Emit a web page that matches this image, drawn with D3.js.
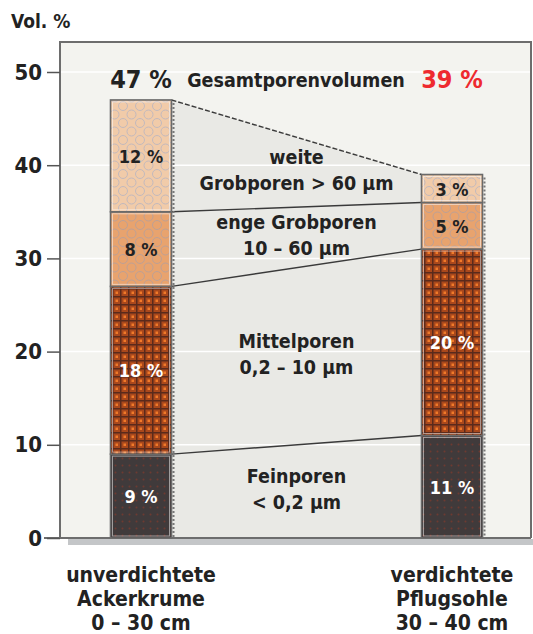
<!DOCTYPE html>
<html>
<head>
<meta charset="utf-8">
<script src="https://cdn.jsdelivr.net/npm/d3@7"></script>
<style>
  body { margin: 0; background: #fff; }
  svg text { font-family: "Liberation Sans Narrow", "DejaVu Sans Condensed", sans-serif; font-weight: bold; fill: #222; }
</style>
</head>
<body>
<svg id="chart" width="533" height="634"></svg>
<script>
// Chart data
const sites = ['loose', 'compact'];
const siteLabels = [
    ['unverdichtete', 'Ackerkrume', '0 – 30 cm'],
    ['verdichtete', 'Pflugsohle', '30 – 40 cm']
];
const poreClasses = ['Feinporen', 'Mittelporen', 'enge Grobporen', 'weite Grobporen'];
const classLabels = [
    ['Feinporen', '< 0,2 µm'],
    ['Mittelporen', '0,2 – 10 µm'],
    ['enge Grobporen', '10 – 60 µm'],
    ['weite', 'Grobporen > 60 µm']
];
const looseValues = [9, 18, 8, 12];
const compactValues = [11, 20, 5, 3];
const totalLabels = ['47 %', '39 %'];
const yTicks = [0, 10, 20, 30, 40, 50];

const svg = d3.select('#chart');
const frame = { left: 60, right: 531, top: 42, bottom: 538 };
const barWidth = 61;

const yScale = d3.scaleLinear().domain([0, 50]).range([538, 72]);
const xScale = d3.scalePoint().domain(sites).range([141, 452]);

// stack values into segments
function stackUp(values) {
    let acc = 0;
    return values.map((v, i) => {
        const seg = { cls: i, y0: acc, y1: acc + v, value: v };
        acc += v;
        return seg;
    });
}
const stacks = [stackUp(looseValues), stackUp(compactValues)];

// patterns
const defs = svg.append('defs');
function circlePattern(id, bg, ring) {
    const p = defs.append('pattern').attr('id', id)
        .attr('patternUnits', 'userSpaceOnUse').attr('width', 17).attr('height', 17);
    p.append('rect').attr('width', 17).attr('height', 17).attr('fill', bg);
    [[4, 4], [12.5, 12.5], [21, 4], [-4.5, 12.5], [4, 21], [12.5, -4.5]].forEach(([cx, cy]) => {
        p.append('circle').attr('cx', cx).attr('cy', cy).attr('r', 4.5)
            .attr('fill', 'none').attr('stroke', ring).attr('stroke-width', 1);
    });
}
circlePattern('pat-light', '#f1cba9', '#c2b9bd');
circlePattern('pat-orange', '#e8a36e', '#bca096');

const brown = defs.append('pattern').attr('id', 'pat-brown')
    .attr('patternUnits', 'userSpaceOnUse').attr('width', 8).attr('height', 8);
brown.append('rect').attr('width', 8).attr('height', 8).attr('fill', '#a9481c');
brown.append('rect').attr('x', 0).attr('y', 0).attr('width', 8).attr('height', 1.5).attr('fill', '#5a2a1c');
brown.append('rect').attr('x', 0).attr('y', 0).attr('width', 1.5).attr('height', 8).attr('fill', '#5a2a1c');
brown.append('rect').attr('x', 3.5).attr('y', 3.5).attr('width', 2.5).attr('height', 2.5).attr('fill', '#f07a2a');

const dark = defs.append('pattern').attr('id', 'pat-dark')
    .attr('patternUnits', 'userSpaceOnUse').attr('width', 7).attr('height', 7);
dark.append('rect').attr('width', 7).attr('height', 7).attr('fill', '#403a3b');
dark.append('circle').attr('cx', 3.5).attr('cy', 3.5).attr('r', 1).attr('fill', '#6e3a30');

const fills = ['url(#pat-dark)', 'url(#pat-brown)', 'url(#pat-orange)', 'url(#pat-light)'];
const segTextColor = ['#fff', '#fff', '#222', '#222'];

// plot background + shadow
svg.append('rect').attr('x', 68).attr('y', frame.bottom + 1)
    .attr('width', frame.right - 66).attr('height', 6).attr('fill', '#c4c6c8');
svg.append('rect').attr('x', frame.left).attr('y', frame.top)
    .attr('width', frame.right - frame.left).attr('height', frame.bottom - frame.top)
    .attr('fill', '#f3f3ef');

// bands between bars
const leftEdge = xScale('loose') + barWidth / 2;
const rightEdge = xScale('compact') - barWidth / 2;
const totalL = d3.sum(looseValues), totalR = d3.sum(compactValues);
svg.append('path')
    .attr('d', `M${leftEdge},${yScale(0)} L${leftEdge},${yScale(totalL)} L${rightEdge},${yScale(totalR)} L${rightEdge},${yScale(0)} Z`)
    .attr('fill', '#e9e9e5');

// gridlines
svg.append('g').selectAll('line').data(yTicks.filter(d => d > 0)).join('line')
    .attr('x1', frame.left).attr('x2', frame.right)
    .attr('y1', d => yScale(d)).attr('y2', d => yScale(d))
    .attr('stroke', '#fff').attr('stroke-width', 1.5);

// connector lines between segment boundaries
poreClasses.forEach((c, i) => {
    const a = stacks[0][i].y1, b = stacks[1][i].y1;
    svg.append('line')
        .attr('x1', leftEdge).attr('y1', yScale(a))
        .attr('x2', rightEdge).attr('y2', yScale(b))
        .attr('stroke', '#3a3a3a').attr('stroke-width', 1.4)
        .attr('stroke-dasharray', i === poreClasses.length - 1 ? '5,2' : null);
});

// frame lines
svg.append('path')
    .attr('d', `M${frame.left},${frame.bottom} L${frame.left},${frame.top} L${frame.right},${frame.top} L${frame.right},${frame.bottom}`)
    .attr('fill', 'none').attr('stroke', '#6d6d6d').attr('stroke-width', 2);
svg.append('line').attr('x1', 44).attr('x2', frame.right)
    .attr('y1', frame.bottom).attr('y2', frame.bottom)
    .attr('stroke', '#6d6d6d').attr('stroke-width', 2);

// y axis
const yAxis = d3.axisLeft(yScale).tickValues(yTicks).tickSize(13).tickPadding(5);
const gy = svg.append('g').attr('transform', `translate(${frame.left},0)`).call(yAxis);
gy.select('.domain').remove();
gy.selectAll('.tick line').attr('stroke', '#555').attr('stroke-width', 1.5);
gy.selectAll('.tick text').attr('font-size', 22).attr('fill', '#222')
    .style('font-family', '"Liberation Sans Narrow", "DejaVu Sans Condensed", sans-serif').style('font-weight', 'bold');
svg.append('text').attr('x', 11).attr('y', 28).attr('font-size', 19).text('Vol. %');

// bars
sites.forEach((s, k) => {
    const g = svg.append('g');
    const x0 = xScale(s) - barWidth / 2;
    // shadow on right edge
    g.append('line').attr('x1', x0 + barWidth + 2).attr('x2', x0 + barWidth + 2)
        .attr('y1', yScale(stacks[k][stacks[k].length - 1].y1) + 3).attr('y2', yScale(0))
        .attr('stroke', '#777').attr('stroke-width', 2).attr('stroke-dasharray', '2,2');
    g.selectAll('rect.seg').data(stacks[k]).join('rect')
        .attr('class', 'seg')
        .attr('x', x0).attr('width', barWidth)
        .attr('y', d => yScale(d.y1)).attr('height', d => yScale(d.y0) - yScale(d.y1))
        .attr('fill', d => fills[d.cls])
        .attr('stroke', '#6a6a6a').attr('stroke-width', 1.6);
    g.selectAll('rect.inner').data(stacks[k]).join('rect')
        .attr('class', 'inner')
        .attr('x', x0 + 2).attr('width', barWidth - 4)
        .attr('y', d => yScale(d.y1) + 2).attr('height', d => yScale(d.y0) - yScale(d.y1) - 4)
        .attr('fill', 'none').attr('stroke', '#fff').attr('stroke-opacity', 0.5).attr('stroke-width', 1);
    g.selectAll('text').data(stacks[k]).join('text')
        .attr('x', xScale(s))
        .attr('y', d => yScale((d.y0 + d.y1) / 2) + 7)
        .attr('text-anchor', 'middle').attr('font-size', 18)
        .style('fill', d => segTextColor[d.cls])
        .text(d => d.value + ' %');
});

// totals and title
svg.append('text').attr('x', xScale('loose')).attr('y', 88).attr('text-anchor', 'middle')
    .attr('font-size', 25).text(totalLabels[0]);
svg.append('text').attr('x', 296).attr('y', 87).attr('text-anchor', 'middle')
    .attr('font-size', 19.5).text('Gesamtporenvolumen');
svg.append('text').attr('x', xScale('compact')).attr('y', 88).attr('text-anchor', 'middle')
    .attr('font-size', 25).style('fill', '#ee2a2f').text(totalLabels[1]);

// band labels
const midX = (leftEdge + rightEdge) / 2;
classLabels.forEach((lines, i) => {
    const lo = (stacks[0][i].y0 + stacks[1][i].y0) / 2;
    const hi = (stacks[0][i].y1 + stacks[1][i].y1) / 2;
    const cy = yScale((lo + hi) / 2) - 3;
    const t = svg.append('text').attr('text-anchor', 'middle').attr('font-size', 19.5);
    lines.forEach((ln, j) => {
        t.append('tspan').attr('x', midX).attr('y', cy - 5 + j * 26).text(ln);
    });
});

// site labels
sites.forEach((s, k) => {
    const t = svg.append('text').attr('text-anchor', 'middle').attr('font-size', 21);
    siteLabels[k].forEach((ln, j) => {
        t.append('tspan').attr('x', xScale(s)).attr('y', 582 + j * 24).text(ln);
    });
});
</script>
</body>
</html>
